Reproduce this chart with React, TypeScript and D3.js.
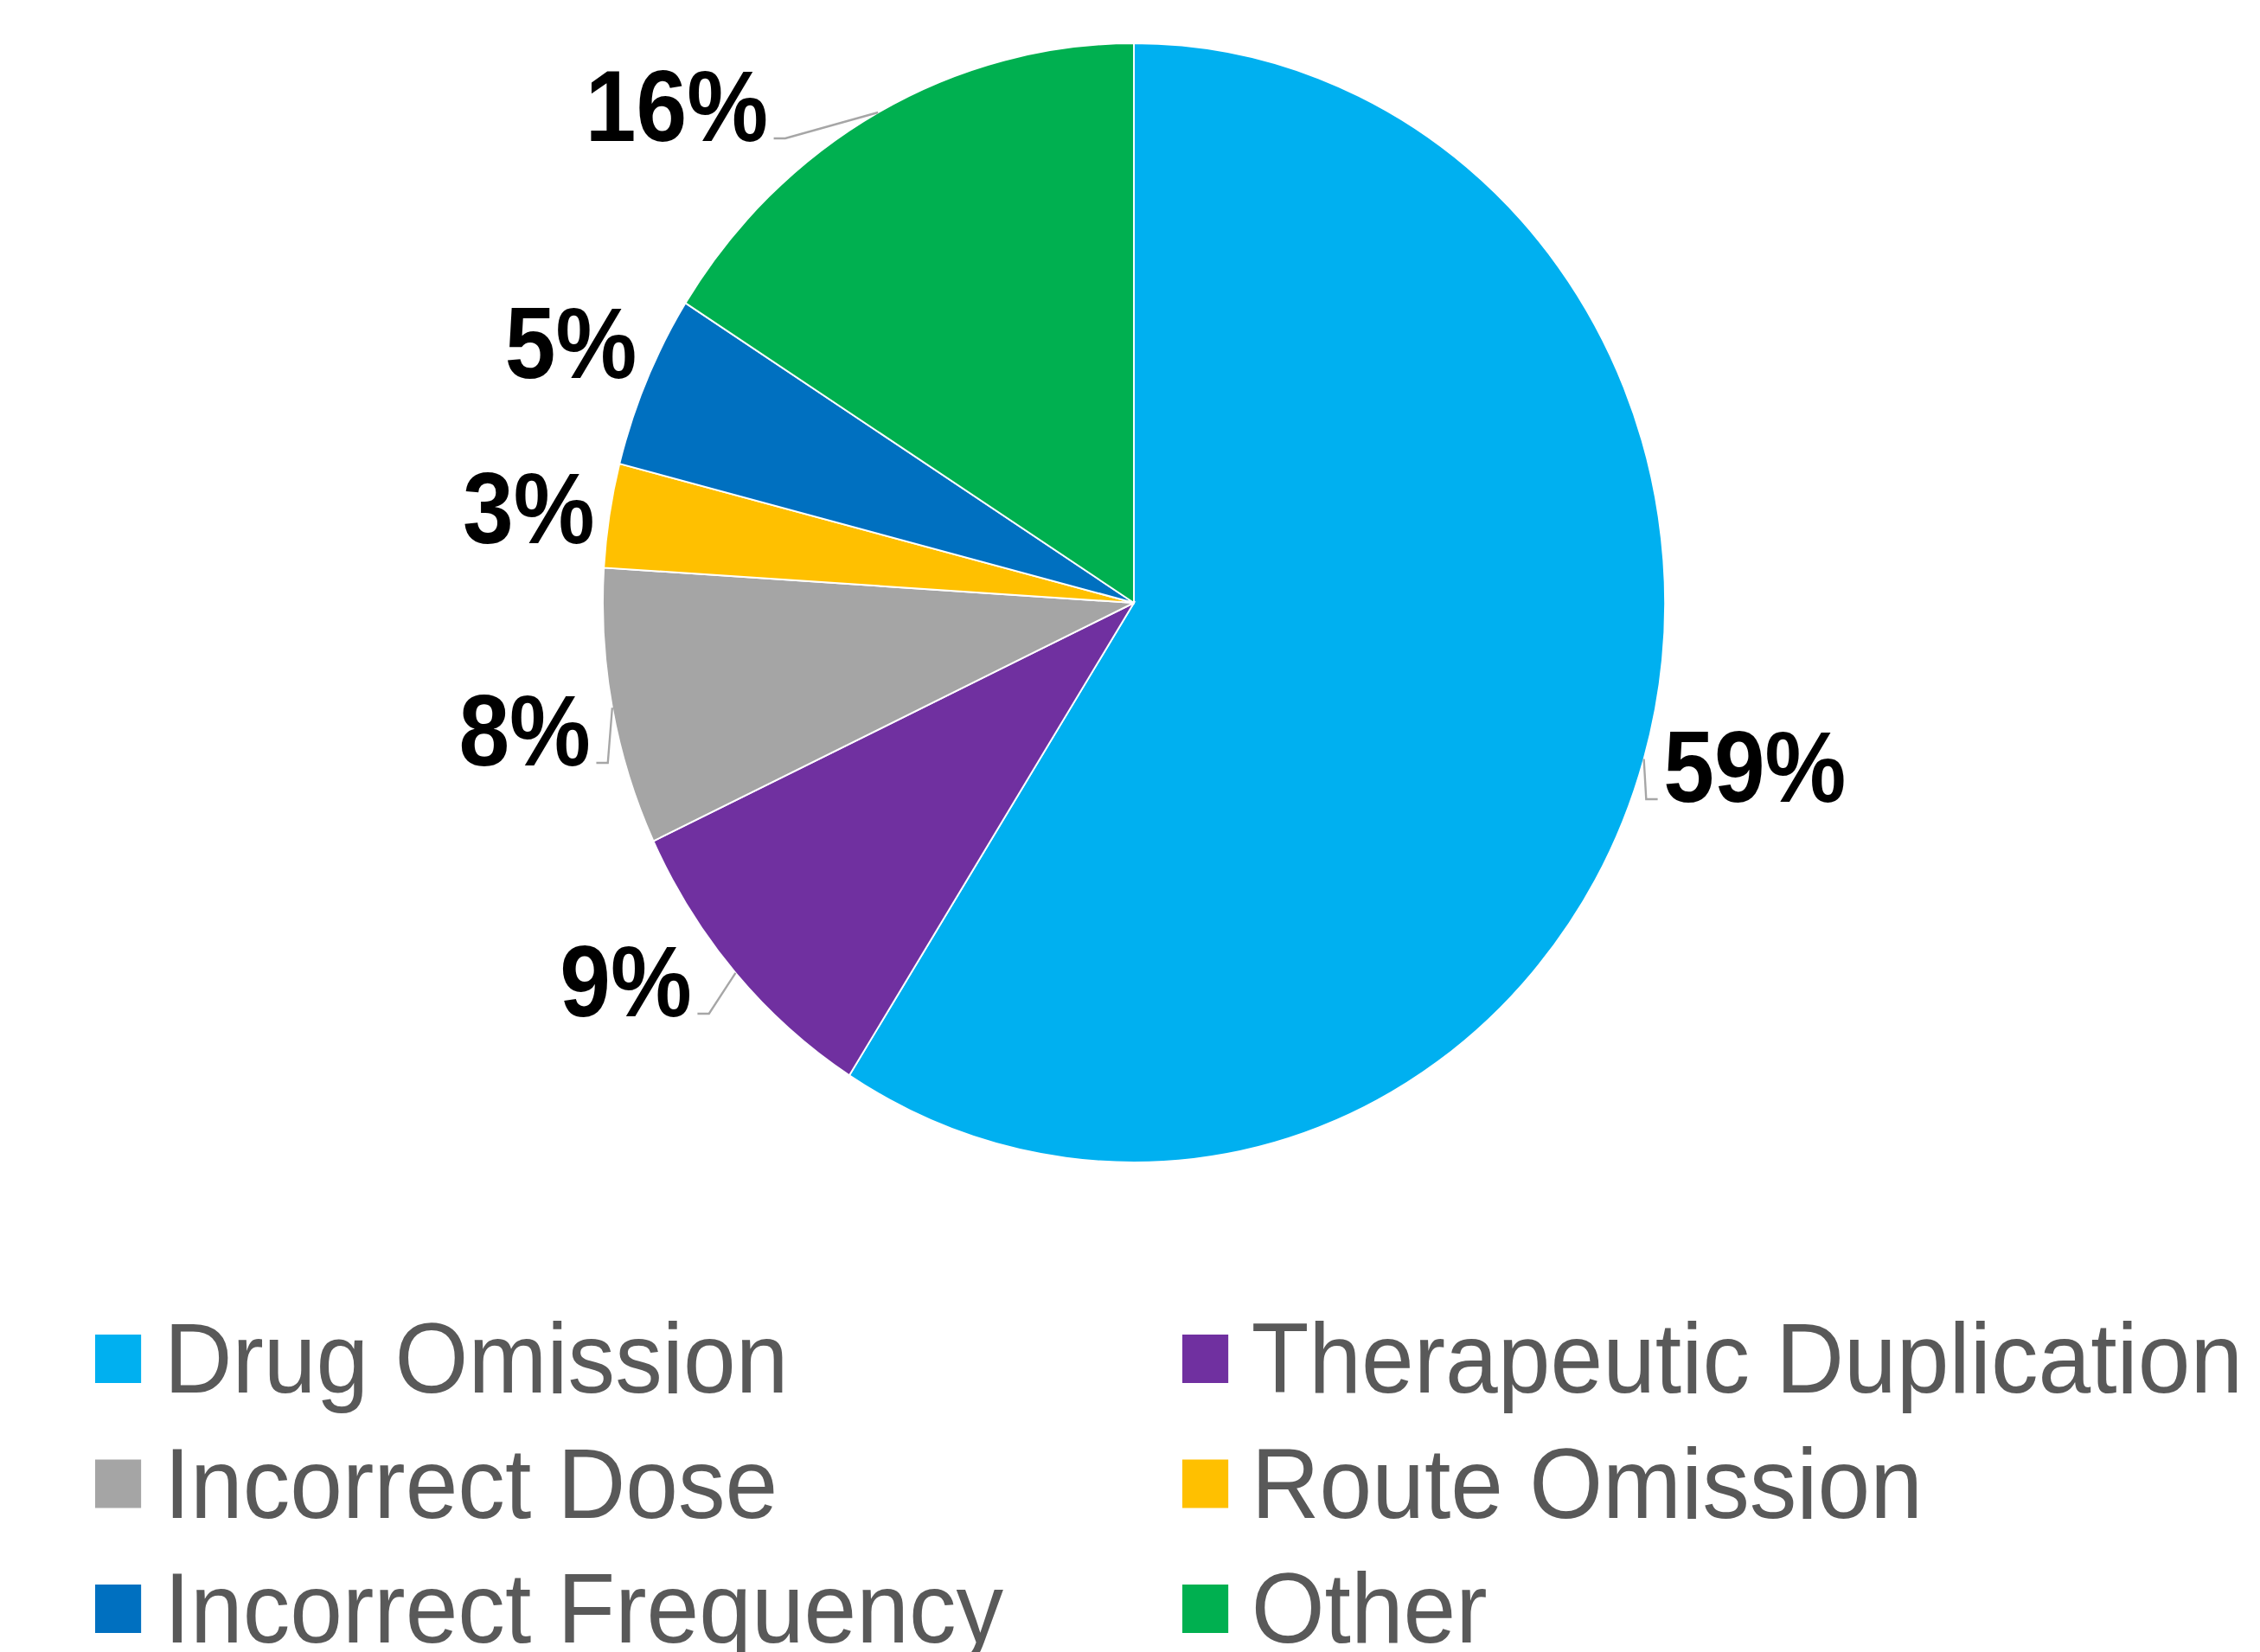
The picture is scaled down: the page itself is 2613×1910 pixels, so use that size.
import React from 'react';
import * as d3 from 'd3';

// chart data
const categories = [
  'Drug Omission',
  'Therapeutic Duplication',
  'Incorrect Dose',
  'Route Omission',
  'Incorrect Frequency',
  'Other',
];
const shares = [59, 9, 8, 3, 5, 16];
const labels = ['59%', '9%', '8%', '3%', '5%', '16%'];
const colors = ['#00B0F0', '#7030A0', '#A5A5A5', '#FFC000', '#0070C0', '#00B050'];

// layout
const W = 2613;
const H = 1910;
const sx = 0.949; // the original is squeezed horizontally
const cx = 1311;
const cy = 697;
const R = 647;
const FONT = '"Liberation Sans", Arial, sans-serif';
// best-fit label nudges (unsquashed px) relative to a point at 1.18R
const labelNudge = [[-88, 17], [34, -27], [88, 45], [97, 50], [95, 43], [-78, 135]];

export default function App() {
  const pie = d3.pie<number>().sort(null).value(d => d);
  const arcs = pie(shares);
  const arc = d3.arc<d3.PieArcDatum<number>>().innerRadius(0).outerRadius(R);

  const labelData = arcs.map((a, i) => {
    const mid = (a.startAngle + a.endAngle) / 2;
    const dx = Math.sin(mid);
    const dy = -Math.cos(mid);
    const left = dx < 0;
    const px = dx * R * 1.18 + labelNudge[i][0];
    const base = dy * R * 1.18 + labelNudge[i][1];
    const A: [number, number] = [dx * R, dy * R];
    const C: [number, number] = [left ? px + 7 : px - 7, base - 3];
    const B: [number, number] = [left ? C[0] + 14 : C[0] - 14, C[1]];
    const dist = Math.hypot(A[0] - C[0], A[1] - C[1]);
    return { i, left, px, base, pts: [A, B, C], leader: dist > 45 };
  });

  const line = d3.line();

  // legend scales
  const colX = d3.scaleOrdinal<number, number>().domain([0, 1]).range([110, 1367]);
  const rowY = d3.scaleLinear().domain([0, 1]).range([1543, 1687.5]);
  const sq = 56;

  return (
    <svg
      width={W}
      height={H}
      style={{ position: 'absolute', left: 0, top: 0, display: 'block', background: '#fff' }}
    >
      <g transform={`translate(${cx},${cy}) scale(${sx},1)`}>
        {arcs.map((a, i) => (
          <path key={i} d={arc(a) || ''} fill={colors[i]} stroke="#fff" strokeWidth={2} />
        ))}
        {labelData.map(l =>
          l.leader ? (
            <path
              key={'l' + l.i}
              d={line(l.pts) || ''}
              fill="none"
              stroke="#A6A6A6"
              strokeWidth={2.5}
            />
          ) : null
        )}
        {labelData.map(l => (
          <text
            key={'t' + l.i}
            transform={`translate(${l.px},${l.base}) scale(0.95,1)`}
            textAnchor={l.left ? 'end' : 'start'}
            fontFamily={FONT}
            fontWeight="bold"
            fontSize={117}
            fill="#000"
          >
            {labels[l.i]}
          </text>
        ))}
      </g>
      {categories.map((c, i) => {
        const col = i % 2;
        const row = Math.floor(i / 2);
        const x = colX(col);
        const y = rowY(row);
        return (
          <g key={c} transform={`translate(${x},${y}) scale(${sx},1)`}>
            <rect x={0} y={0} width={sq} height={sq} fill={colors[i]} />
            <text
              x={sq + 28}
              y={67}
              fontFamily={FONT}
              fontSize={115}
              fill="#595959"
            >
              {c}
            </text>
          </g>
        );
      })}
    </svg>
  );
}
